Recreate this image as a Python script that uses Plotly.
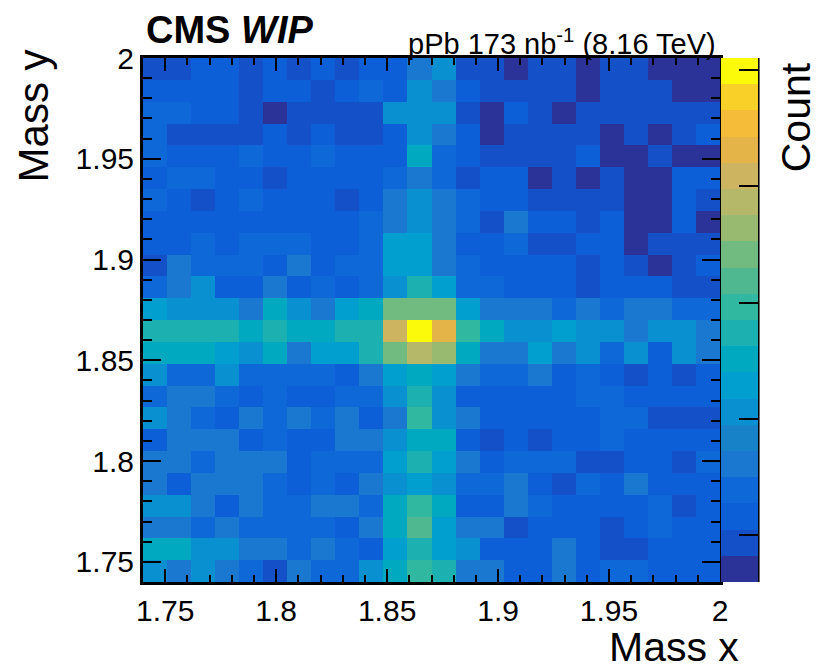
import numpy as np
import plotly.graph_objects as go

# 24 x 24 bins between 1.74 and 2.0 in both masses
mass_lo, mass_hi, n_bins = 1.74, 2.0, 24
edges = np.linspace(mass_lo, mass_hi, n_bins + 1)
centers = 0.5 * (edges[:-1] + edges[1:])

# counts, rows written from the top (Mass y = 2.0) to the bottom (Mass y = 1.74)
counts_top_down = [
    [15,15,16,16,15,16,15,16,15,16,16,18, 20,15,15,14,15,15,14,15,15,14,14,14],
    [16,16,16,16,15,16,16,15,16,17,16,20, 18,16,15,15,15,15,14,15,15,15,14,14],
    [17,17,16,16,15,14,15,15,15,15,20,20, 20,15,14,16,15,14,15,15,15,15,15,15],
    [17,15,15,15,15,16,15,16,15,15,16,20, 18,16,14,15,15,15,15,14,15,14,15,16],
    [17,16,16,16,17,16,16,17,16,16,16,23, 17,16,15,15,15,15,16,14,14,15,14,14],
    [16,17,17,16,16,15,16,16,16,16,17,18, 17,15,16,16,14,15,14,15,14,14,16,16],
    [17,16,15,16,17,16,16,16,15,16,18,20, 18,17,16,16,15,15,15,15,14,14,16,15],
    [16,16,16,16,16,16,16,16,16,17,18,20, 18,17,15,18,16,16,15,16,14,14,16,14],
    [16,16,17,16,17,17,17,16,16,17,21,21, 18,16,16,17,15,15,16,16,14,15,15,15],
    [15,18,17,17,17,16,18,16,17,17,21,21, 18,17,16,16,16,16,15,16,15,14,15,16],
    [17,18,20,16,16,18,16,17,16,17,20,24, 21,17,17,16,16,16,15,16,16,16,15,15],
    [21,20,20,20,18,23,20,18,21,23,27,27, 27,21,18,18,18,17,18,17,18,18,17,17],
    [24,24,24,24,23,24,23,23,24,24,30,35, 32,25,23,20,20,21,20,20,18,20,20,18],
    [23,23,23,21,20,23,18,21,21,24,27,29, 28,23,18,18,21,18,20,17,20,16,20,18],
    [20,17,17,20,17,17,17,17,16,18,21,23, 21,18,17,17,18,16,17,16,15,16,15,16],
    [17,18,18,17,16,17,16,16,17,17,20,24, 20,16,16,16,16,16,17,17,16,16,16,16],
    [20,18,17,16,18,17,18,17,18,16,18,25, 20,18,16,16,16,16,16,17,17,15,15,15],
    [16,18,18,18,16,17,16,16,18,18,20,23, 23,16,15,16,15,16,16,17,16,16,16,16],
    [18,18,17,18,18,18,16,17,17,17,21,24, 21,18,16,17,17,17,15,15,16,16,15,17],
    [18,16,18,18,18,17,16,17,16,18,20,21, 20,17,17,18,16,15,17,16,18,16,16,16],
    [20,20,18,16,18,17,17,18,18,17,23,25, 23,16,16,18,17,16,16,16,16,17,15,16],
    [18,18,17,18,17,17,17,17,16,18,23,26, 21,18,18,15,16,16,16,15,16,17,16,16],
    [23,23,20,20,18,18,17,18,17,16,21,24, 21,20,16,16,16,18,16,15,15,16,16,16],
    [20,18,20,18,17,15,18,17,17,20,23,25, 24,18,18,16,16,18,16,17,17,16,16,16],
]
counts = counts_top_down[::-1]

z_min, z_max = 13.0, 35.5
z_ticks = [15, 20, 25, 30, 35]

axis_ticks = [1.75, 1.8, 1.85, 1.9, 1.95, 2.0]
axis_labels = ["1.75", "1.8", "1.85", "1.9", "1.95", "2"]

# ROOT kBird palette, 20 contour levels
palette = [
    "#2b3399", "#1450c8", "#0d5fd8", "#0f68d8", "#1a78d0",
    "#1882c8", "#0890d0", "#009fd0", "#00a8c0", "#1cb0b0",
    "#30b8a0", "#50b890", "#72bb80", "#98ba70", "#b4b868",
    "#ccb460", "#e4b448", "#f4bc38", "#f8d028", "#fafa0a",
]
n_lev = len(palette)
colorscale = []
for i, c in enumerate(palette):
    colorscale.append([i / n_lev, c])
    colorscale.append([(i + 1) / n_lev, c])

font = "Liberation Sans, Arial, Helvetica, sans-serif"

fig = go.Figure(go.Heatmap(
    x=centers, y=centers, z=counts,
    zmin=z_min, zmax=z_max,
    colorscale=colorscale,
    colorbar=dict(
        x=1.002, xanchor="left", xpad=0,
        y=0, yanchor="bottom", len=1, lenmode="fraction", ypad=0,
        thickness=37, outlinewidth=0,
        tickmode="array", tickvals=z_ticks, showticklabels=False,
        ticks="inside", ticklen=19, tickwidth=2, tickcolor="black",
    ),
    hovertemplate="x=%{x:.4f}<br>y=%{y:.4f}<br>count=%{z}<extra></extra>",
))

axis_common = dict(
    range=[mass_lo, mass_hi],
    tickmode="array", tickvals=axis_ticks, ticktext=axis_labels,
    ticks="inside", tickwidth=2, tickcolor="black",
    showline=True, linecolor="black", linewidth=3, mirror="ticks",
    showgrid=False, zeroline=False,
    tickfont=dict(family=font, size=30, color="black"),
)

fig.update_xaxes(**axis_common, ticklen=13,
                 minor=dict(dtick=0.01, tick0=1.74, ticks="inside", ticklen=7,
                            tickwidth=2, tickcolor="black", showgrid=False))
fig.update_yaxes(**axis_common, ticklen=18,
                 minor=dict(dtick=0.01, tick0=1.74, ticks="inside", ticklen=9,
                            tickwidth=2, tickcolor="black", showgrid=False))

# right edge of the palette axis
fig.add_shape(type="line", xref="paper", yref="paper",
              x0=1.066, x1=1.066, y0=0, y1=1,
              line=dict(color="black", width=3))

fig.add_annotation(text="Mass x", xref="paper", yref="paper",
                   x=1.037, y=-0.124, xanchor="right", yanchor="middle",
                   showarrow=False, font=dict(family=font, size=41, color="black"))
fig.add_annotation(text="Mass y", xref="paper", yref="paper", textangle=-90,
                   x=-0.19, y=1.02, xanchor="center", yanchor="top",
                   showarrow=False, font=dict(family=font, size=42, color="black"))
fig.add_annotation(text="Count", xref="paper", yref="paper", textangle=-90,
                   x=1.132, y=0.996, xanchor="center", yanchor="top",
                   showarrow=False, font=dict(family=font, size=41, color="black"))
fig.add_annotation(text="<b>CMS</b> <b><i>WIP</i></b>", xref="paper", yref="paper",
                   x=0.002, y=1.053, xanchor="left", yanchor="middle",
                   showarrow=False, font=dict(family=font, size=38, color="black"))
fig.add_annotation(text="pPb 173 nb<sup>-1</sup> (8.16 TeV)", xref="paper", yref="paper",
                   x=0.997, y=1.03, xanchor="right", yanchor="middle",
                   showarrow=False, font=dict(family=font, size=29, color="black"))

fig.update_layout(
    width=820, height=671,
    margin=dict(l=143, r=100, t=58, b=89),
    paper_bgcolor="white", plot_bgcolor="white",
    font=dict(family=font, color="black"),
)

# the page body has a default 8px margin; drop it so the figure fills the window
fig.write_html("out.html", config={"displayModeBar": False},
               post_script="document.body.style.margin = '0';")
